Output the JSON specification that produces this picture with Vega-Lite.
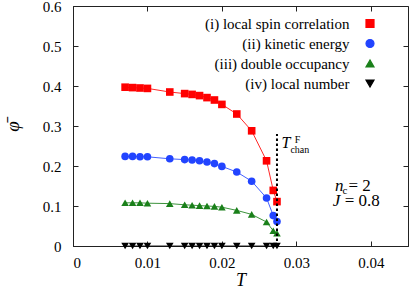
{
  "$schema": "https://vega.github.io/schema/vega-lite/v6.json",
  "width": 335,
  "height": 240,
  "autosize": "none",
  "padding": {"left": 73, "top": 6, "right": 1, "bottom": 42},
  "background": "white",
  "config": {
    "view": {"stroke": "#222", "strokeWidth": 1},
    "axis": {
      "grid": false,
      "domainColor": "#222",
      "tickColor": "#222",
      "tickSize": -5,
      "labelFont": "Liberation Serif",
      "labelFontSize": 15,
      "labelColor": "black",
      "titleFont": "Liberation Serif",
      "titleFontStyle": "italic",
      "titleFontWeight": "normal",
      "titleColor": "black"
    },
    "text": {"font": "Liberation Serif", "color": "black"}
  },
  "data": {
    "values": [
      {"T": 0.0070, "v": 0.397, "s": "(i) local spin correlation"},
      {"T": 0.0080, "v": 0.396, "s": "(i) local spin correlation"},
      {"T": 0.0090, "v": 0.395, "s": "(i) local spin correlation"},
      {"T": 0.0100, "v": 0.394, "s": "(i) local spin correlation"},
      {"T": 0.0130, "v": 0.385, "s": "(i) local spin correlation"},
      {"T": 0.0150, "v": 0.381, "s": "(i) local spin correlation"},
      {"T": 0.0160, "v": 0.379, "s": "(i) local spin correlation"},
      {"T": 0.0170, "v": 0.376, "s": "(i) local spin correlation"},
      {"T": 0.0180, "v": 0.371, "s": "(i) local spin correlation"},
      {"T": 0.0190, "v": 0.365, "s": "(i) local spin correlation"},
      {"T": 0.0200, "v": 0.354, "s": "(i) local spin correlation"},
      {"T": 0.0220, "v": 0.330, "s": "(i) local spin correlation"},
      {"T": 0.0240, "v": 0.288, "s": "(i) local spin correlation"},
      {"T": 0.0260, "v": 0.213, "s": "(i) local spin correlation"},
      {"T": 0.0269, "v": 0.139, "s": "(i) local spin correlation"},
      {"T": 0.0274, "v": 0.111, "s": "(i) local spin correlation"},
      {"T": 0.0070, "v": 0.224, "s": "(ii) kinetic energy"},
      {"T": 0.0080, "v": 0.224, "s": "(ii) kinetic energy"},
      {"T": 0.0090, "v": 0.223, "s": "(ii) kinetic energy"},
      {"T": 0.0100, "v": 0.223, "s": "(ii) kinetic energy"},
      {"T": 0.0130, "v": 0.218, "s": "(ii) kinetic energy"},
      {"T": 0.0150, "v": 0.216, "s": "(ii) kinetic energy"},
      {"T": 0.0160, "v": 0.215, "s": "(ii) kinetic energy"},
      {"T": 0.0170, "v": 0.213, "s": "(ii) kinetic energy"},
      {"T": 0.0180, "v": 0.210, "s": "(ii) kinetic energy"},
      {"T": 0.0190, "v": 0.206, "s": "(ii) kinetic energy"},
      {"T": 0.0200, "v": 0.199, "s": "(ii) kinetic energy"},
      {"T": 0.0220, "v": 0.185, "s": "(ii) kinetic energy"},
      {"T": 0.0240, "v": 0.162, "s": "(ii) kinetic energy"},
      {"T": 0.0260, "v": 0.120, "s": "(ii) kinetic energy"},
      {"T": 0.0269, "v": 0.076, "s": "(ii) kinetic energy"},
      {"T": 0.0274, "v": 0.061, "s": "(ii) kinetic energy"},
      {"T": 0.0070, "v": 0.108, "s": "(iii) double occupancy"},
      {"T": 0.0080, "v": 0.108, "s": "(iii) double occupancy"},
      {"T": 0.0090, "v": 0.108, "s": "(iii) double occupancy"},
      {"T": 0.0100, "v": 0.107, "s": "(iii) double occupancy"},
      {"T": 0.0130, "v": 0.106, "s": "(iii) double occupancy"},
      {"T": 0.0150, "v": 0.103, "s": "(iii) double occupancy"},
      {"T": 0.0160, "v": 0.102, "s": "(iii) double occupancy"},
      {"T": 0.0170, "v": 0.101, "s": "(iii) double occupancy"},
      {"T": 0.0180, "v": 0.100, "s": "(iii) double occupancy"},
      {"T": 0.0190, "v": 0.099, "s": "(iii) double occupancy"},
      {"T": 0.0200, "v": 0.097, "s": "(iii) double occupancy"},
      {"T": 0.0220, "v": 0.089, "s": "(iii) double occupancy"},
      {"T": 0.0240, "v": 0.079, "s": "(iii) double occupancy"},
      {"T": 0.0260, "v": 0.060, "s": "(iii) double occupancy"},
      {"T": 0.0269, "v": 0.038, "s": "(iii) double occupancy"},
      {"T": 0.0274, "v": 0.032, "s": "(iii) double occupancy"},
      {"T": 0.0070, "v": 0, "s": "(iv) local number"},
      {"T": 0.0080, "v": 0, "s": "(iv) local number"},
      {"T": 0.0090, "v": 0, "s": "(iv) local number"},
      {"T": 0.0100, "v": 0, "s": "(iv) local number"},
      {"T": 0.0130, "v": 0, "s": "(iv) local number"},
      {"T": 0.0150, "v": 0, "s": "(iv) local number"},
      {"T": 0.0160, "v": 0, "s": "(iv) local number"},
      {"T": 0.0170, "v": 0, "s": "(iv) local number"},
      {"T": 0.0180, "v": 0, "s": "(iv) local number"},
      {"T": 0.0190, "v": 0, "s": "(iv) local number"},
      {"T": 0.0200, "v": 0, "s": "(iv) local number"},
      {"T": 0.0220, "v": 0, "s": "(iv) local number"},
      {"T": 0.0240, "v": 0, "s": "(iv) local number"},
      {"T": 0.0260, "v": 0, "s": "(iv) local number"},
      {"T": 0.0269, "v": 0, "s": "(iv) local number"},
      {"T": 0.0274, "v": 0, "s": "(iv) local number"}
    ]
  },
  "resolve": {"axis": {"x": "independent", "y": "independent"}},
  "layer": [
    {
      "mark": {"type": "line", "strokeWidth": 1, "strokeOpacity": 0.85},
      "encoding": {
        "x": {"field": "T", "type": "quantitative", "scale": {"domain": [0, 0.045], "nice": false},
              "axis": {"orient": "top", "labels": false, "title": null, "domain": false, "values": [0, 0.01, 0.02, 0.03, 0.04]}},
        "y": {"field": "v", "type": "quantitative", "scale": {"domain": [0, 0.6], "nice": false},
              "axis": {"orient": "right", "labels": false, "title": null, "domain": false, "values": [0, 0.1, 0.2, 0.3, 0.4, 0.5, 0.6]}},
        "color": {"field": "s", "type": "nominal",
                  "scale": {"domain": ["(i) local spin correlation", "(ii) kinetic energy", "(iii) double occupancy", "(iv) local number"],
                            "range": ["#ff0000", "#2244ff", "#1a801a", "#000000"]}},
        "detail": {"field": "s"}
      }
    },
    {
      "mark": {"type": "point", "filled": true, "opacity": 1, "size": 58},
      "encoding": {
        "x": {"field": "T", "type": "quantitative",
              "axis": {"title": "T", "titleFontSize": 18, "format": "~g", "values": [0, 0.01, 0.02, 0.03, 0.04], "labelPadding": 14, "titlePadding": 1}},
        "y": {"field": "v", "type": "quantitative",
              "axis": {"title": "φ̄", "titleFontSize": 19, "titleAngle": -90, "format": "~g", "values": [0, 0.1, 0.2, 0.3, 0.4, 0.5, 0.6], "labelPadding": 17, "titlePadding": 20}},
        "color": {"field": "s", "type": "nominal",
                  "legend": {
                    "orient": "none", "legendX": 289.5, "legendY": 10, "title": null,
                    "labelAlign": "right", "labelOffset": -28, "labelFont": "Liberation Serif", "labelFontSize": 15, "labelColor": "black",
                    "rowPadding": 4, "padding": 0, "symbolSize": 64, "symbolStrokeWidth": 1.2, "symbolOpacity": 1
                  }},
        "shape": {"field": "s", "type": "nominal",
                  "scale": {"domain": ["(i) local spin correlation", "(ii) kinetic energy", "(iii) double occupancy", "(iv) local number"],
                            "range": ["square", "circle", "triangle-up", "triangle-down"]}}
      }
    },
    {
      "data": {"values": [{}]},
      "mark": {"type": "rule", "color": "black", "strokeWidth": 2, "strokeDash": [2.5, 2.5]},
      "encoding": {
        "x": {"datum": 0.0274, "type": "quantitative", "axis": null},
        "y": {"datum": 0, "type": "quantitative", "axis": null},
        "y2": {"datum": 0.28}
      }
    },
    {
      "data": {"values": [{}]},
      "mark": {"type": "text", "text": "T", "fontStyle": "italic", "fontSize": 16, "align": "left", "baseline": "alphabetic"},
      "encoding": {"x": {"datum": 0.0280, "type": "quantitative", "axis": null}, "y": {"datum": 0.2444, "type": "quantitative", "axis": null}}
    },
    {
      "data": {"values": [{}]},
      "mark": {"type": "text", "text": "F", "fontSize": 10, "align": "left", "baseline": "alphabetic"},
      "encoding": {"x": {"datum": 0.0298, "type": "quantitative", "axis": null}, "y": {"datum": 0.2569, "type": "quantitative", "axis": null}}
    },
    {
      "data": {"values": [{}]},
      "mark": {"type": "text", "text": "chan", "fontSize": 10, "align": "left", "baseline": "alphabetic"},
      "encoding": {"x": {"datum": 0.0292, "type": "quantitative", "axis": null}, "y": {"datum": 0.2336, "type": "quantitative", "axis": null}}
    },
    {
      "data": {"values": [{}]},
      "mark": {"type": "text", "text": "n", "fontStyle": "italic", "fontSize": 17, "align": "left", "baseline": "alphabetic"},
      "encoding": {"x": {"datum": 0.0352, "type": "quantitative", "axis": null}, "y": {"datum": 0.1366, "type": "quantitative", "axis": null}}
    },
    {
      "data": {"values": [{}]},
      "mark": {"type": "text", "text": "c", "fontSize": 11, "align": "left", "baseline": "alphabetic"},
      "encoding": {"x": {"datum": 0.0362, "type": "quantitative", "axis": null}, "y": {"datum": 0.129, "type": "quantitative", "axis": null}}
    },
    {
      "data": {"values": [{}]},
      "mark": {"type": "text", "text": "= 2", "fontSize": 17, "align": "left", "baseline": "alphabetic"},
      "encoding": {"x": {"datum": 0.0370, "type": "quantitative", "axis": null}, "y": {"datum": 0.1366, "type": "quantitative", "axis": null}}
    },
    {
      "data": {"values": [{}]},
      "mark": {"type": "text", "text": "J", "fontStyle": "italic", "fontSize": 17, "align": "left", "baseline": "alphabetic"},
      "encoding": {"x": {"datum": 0.0349, "type": "quantitative", "axis": null}, "y": {"datum": 0.0997, "type": "quantitative", "axis": null}}
    },
    {
      "data": {"values": [{}]},
      "mark": {"type": "text", "text": "= 0.8", "fontSize": 17, "align": "left", "baseline": "alphabetic"},
      "encoding": {"x": {"datum": 0.0365, "type": "quantitative", "axis": null}, "y": {"datum": 0.0997, "type": "quantitative", "axis": null}}
    }
  ]
}
